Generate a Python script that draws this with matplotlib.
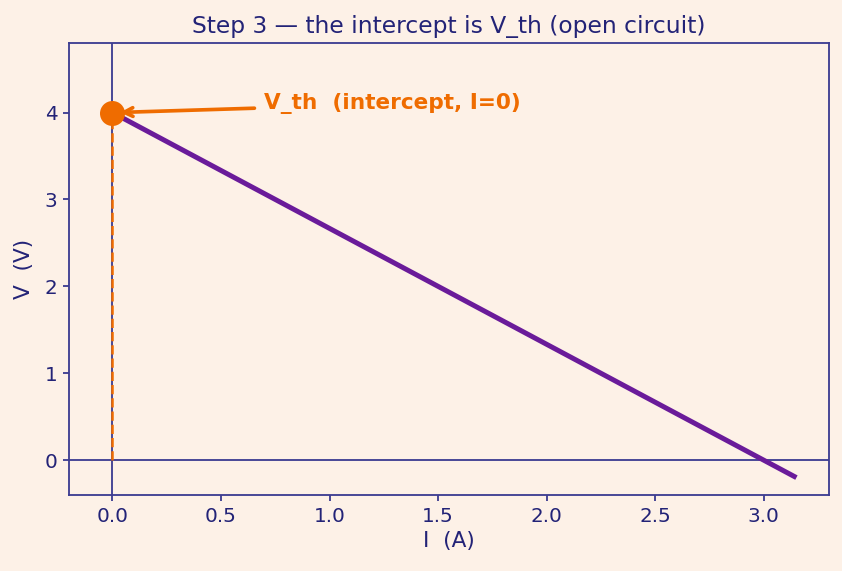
import matplotlib
matplotlib.use("Agg")
import matplotlib.pyplot as plt
import numpy as np

# Data
I_vals = [0.0, 3.15]
V_vals = [4.0, -0.2]
V_th = 4.0
x_ticks = [0.0, 0.5, 1.0, 1.5, 2.0, 2.5, 3.0]
y_ticks = [0, 1, 2, 3, 4]

BG = "#fdf1e7"
NAVY = "#232377"
SPINE = "#3d3d91"
PURPLE = "#6a1b9a"
ORANGE = "#ef6c00"

fig = plt.figure(figsize=(842/120, 571/120), dpi=120, facecolor=BG)
ax = fig.add_axes([69/842, 1-495/571, (829-69)/842, (495-43)/571])
ax.set_facecolor(BG)

ax.axhline(0, color=SPINE, lw=1.1, zorder=1)
ax.axvline(0, color=SPINE, lw=1.1, zorder=1)
ax.plot(I_vals, V_vals, color=PURPLE, lw=3, zorder=3, solid_capstyle="butt")
ax.plot([0, 0], [0, V_th], color=ORANGE, lw=1.5, ls="--", zorder=2)
ax.plot([0], [V_th], "o", color=ORANGE, ms=14, zorder=4)
ax.annotate("V_th  (intercept, I=0)", xy=(0.02, V_th), xytext=(0.7, 4.1),
            color=ORANGE, fontsize=13, fontweight="bold", va="center",
            arrowprops=dict(arrowstyle="->", color=ORANGE, lw=2.2,
                            shrinkA=4, shrinkB=2))

ax.set_xlim(-0.2, 3.3)
ax.set_ylim(-0.4, 4.8)
ax.set_xticks(x_ticks)
ax.set_yticks(y_ticks)
ax.set_xticklabels([f"{t:.1f}" for t in x_ticks])
ax.set_yticklabels([str(t) for t in y_ticks])
ax.tick_params(colors=SPINE, labelcolor=NAVY, labelsize=12, width=1.1)
for s in ax.spines.values():
    s.set_color(SPINE)
    s.set_linewidth(1.1)
ax.set_xlabel("I  (A)", color=NAVY, fontsize=13, labelpad=3)
ax.set_ylabel("V  (V)", color=NAVY, fontsize=13, labelpad=6)
ax.set_title("Step 3 — the intercept is V_th (open circuit)", color=NAVY, fontsize=14, pad=6)

fig.savefig("out.png", dpi=120, facecolor=BG)
